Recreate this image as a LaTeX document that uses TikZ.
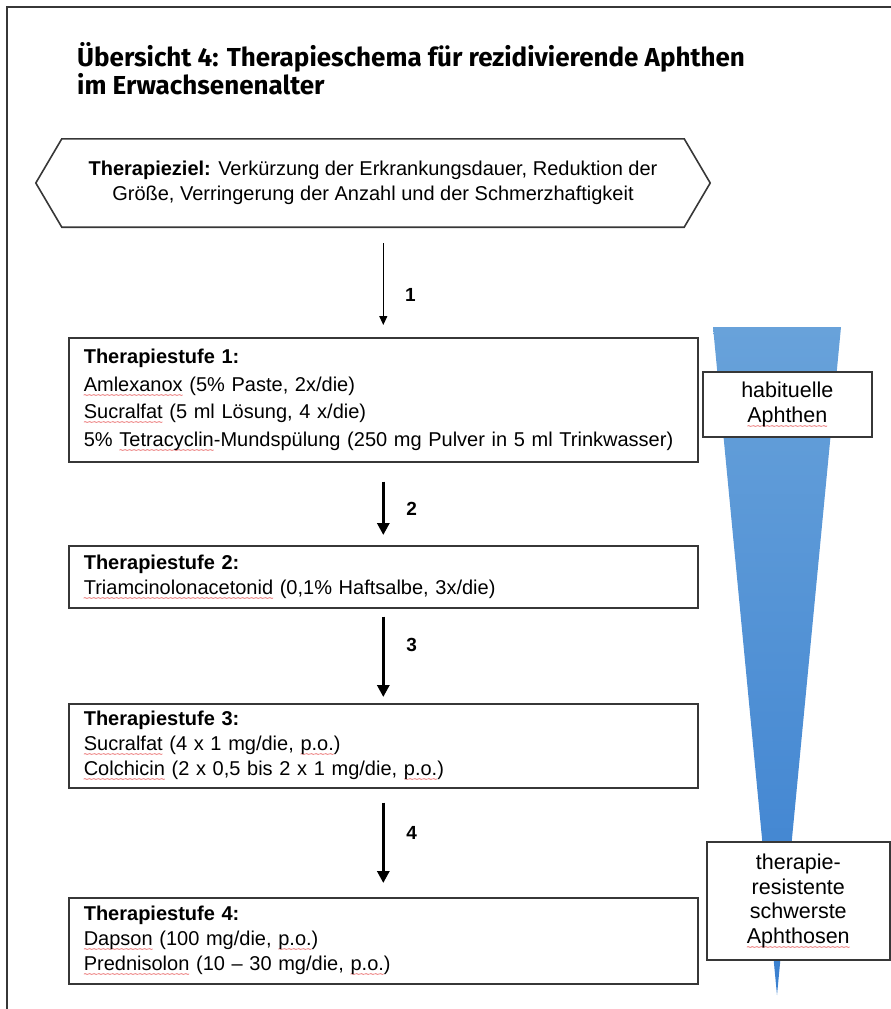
\documentclass[tikz,border=0pt]{standalone}
\usepackage{fontspec}
\setmainfont{Liberation Sans}
\newfontfamily\titlefont{Fira Sans}
\usetikzlibrary{arrows.meta}

\definecolor{framegray}{RGB}{55,55,55}
\definecolor{wedgetop}{RGB}{104,162,218}
\definecolor{wedgebottom}{RGB}{58,128,208}
\definecolor{spellred}{RGB}{225,45,45}

% red wavy spell-check underline
\newsavebox\spellbox
\newcommand\spellmark[1]{\leavevmode\sbox\spellbox{#1}\rlap{\raisebox{-7pt}[0pt][0pt]{\textcolor{spellred}{\fontsize{9}{9}\selectfont\hbox to \wd\spellbox{\xleaders\hbox{\kern-0.4pt\char"7E\kern-0.4pt}\hfil}}}}\usebox\spellbox}

\begin{document}
\begin{tikzpicture}[x=1pt, y=-1pt,
        title_text/.style={font=\titlefont\bfseries\fontsize{26}{20.5}\selectfont, align=left, inner sep=0pt},
        goal_text/.style={minimum width=622pt, minimum height=88pt, align=center, font=\fontsize{20}{25}\selectfont},
        stage_box/.style={draw=framegray, line width=1.6pt, fill=white, anchor=north west, minimum width=629pt, text width=599pt, inner xsep=15pt, align=left, font=\fontsize{20}{25}\selectfont},
        side_box/.style={draw=framegray, line width=1.6pt, fill=white, anchor=north west, align=center, font=\fontsize{21.5}{24.5}\selectfont},
        thin_arrow/.style={-{Triangle[length=9pt, width=8pt]}, line width=1.2pt},
        step_arrow/.style={-{Triangle[length=12pt, width=12pt]}, line width=3.5pt},
        step_label/.style={font=\bfseries\fontsize{19}{19}\selectfont, right=18pt}
    ]
        \useasboundingbox (0,0) rectangle (891,1009);

        % frame
        \draw[framegray, line width=2.5pt] (7,1009) -- (7,7) -- (891,7);

        % title
        \node[title_text, anchor=north west] (titel) at (77,42) {Übersicht 4: Therapieschema für rezidivierende Aphthen\\im Erwachsenenalter};

        % blue wedge behind the side boxes
        \shade[top color=wedgetop, bottom color=wedgebottom] (713,327) -- (841,327) -- (777,995) -- cycle;

        % goal (hexagon)
        \node[goal_text] (ziel) at (373,183) {\textbf{Therapieziel:} Verkürzung der Erkrankungsdauer, Reduktion der\\Größe, Verringerung der Anzahl und der Schmerzhaftigkeit};
        \draw[framegray, line width=1.6pt] ([xshift=-26pt]ziel.west) -- (ziel.north west) -- (ziel.north east) -- ([xshift=26pt]ziel.east) -- (ziel.south east) -- (ziel.south west) -- cycle;

        % stages
        \node[stage_box, minimum height=124pt, font=\fontsize{20}{27.5}\selectfont] (stufe1) at (68,337) {\textbf{Therapiestufe 1:}\\\spellmark{Amlexanox} (5\% Paste, 2x/die)\\\spellmark{Sucralfat} (5 ml Lösung, 4 x/die)\\5\% \spellmark{Tetracyclin}-Mundspülung (250 mg Pulver in 5 ml Trinkwasser)};
        \node[stage_box, minimum height=62pt] (stufe2) at (68,545) {\textbf{Therapiestufe 2:}\\\spellmark{Triamcinolonacetonid} (0,1\% Haftsalbe, 3x/die)};
        \node[stage_box, minimum height=84pt] (stufe3) at (68,703) {\textbf{Therapiestufe 3:}\\\spellmark{Sucralfat} (4 x 1 mg/die, \spellmark{p.o.})\\\spellmark{Colchicin} (2 x 0,5 bis 2 x 1 mg/die, \spellmark{p.o.})};
        \node[stage_box, minimum height=86pt] (stufe4) at (68,897) {\textbf{Therapiestufe 4:}\\\spellmark{Dapson} (100 mg/die, \spellmark{p.o.})\\\spellmark{Prednisolon} (10 -- 30 mg/die, \spellmark{p.o.})};

        % side labels
        \node[side_box, minimum width=169pt, minimum height=65pt] (habituell) at (702,371) {habituelle\\\spellmark{Aphthen}};
        \node[side_box, minimum width=183pt, minimum height=118pt] (resistent) at (706,841) {therapie-\\resistente\\schwerste\\\spellmark{Aphthosen}};

        % steps
        \draw[thin_arrow, shorten <=16pt, shorten >=12pt] (stufe1.north |- ziel.south) -- (stufe1.north) node[step_label, pos=0.62] {1};
        \draw[step_arrow, shorten <=19pt, shorten >=10pt] (stufe1.south) -- (stufe2.north) node[step_label, pos=0.56] {2};
        \draw[step_arrow, shorten <=8pt, shorten >=6pt] (stufe2.south) -- (stufe3.north) node[step_label, pos=0.38] {3};
        \draw[step_arrow, shorten <=14pt, shorten >=14pt] (stufe3.south) -- (stufe4.north) node[step_label, pos=0.41] {4};
    \end{tikzpicture}
\end{document}
